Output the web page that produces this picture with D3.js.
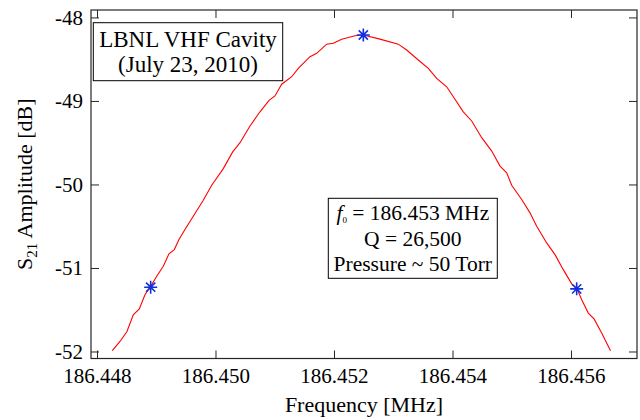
<!DOCTYPE html>
<html>
<head>
<meta charset="utf-8">
<script src="https://cdn.jsdelivr.net/npm/d3@7"></script>
<style>
  html, body { margin: 0; padding: 0; background: #fff; }
  svg text { font-family: "Liberation Serif", "DejaVu Serif", serif; fill: #000; }
</style>
</head>
<body>
<svg id="chart" width="640" height="420"></svg>
<script>
// ---- data ----
const freq = [
  186.448258, 186.448388, 186.448506, 186.448613, 186.448714, 186.448810, 186.448906,
  186.449008, 186.449119, 186.449215, 186.449305, 186.449384, 186.449485, 186.449625,
  186.449794, 186.449936, 186.450132, 186.450290, 186.450414, 186.450582, 186.450751,
  186.450908, 186.451004, 186.451117, 186.451286, 186.451398, 186.451595, 186.451708,
  186.451877, 186.451988, 186.452130, 186.452354, 186.452495, 186.452776, 186.453085,
  186.453227, 186.453423, 186.453592, 186.453733, 186.453902, 186.454042, 186.454182,
  186.454324, 186.454493, 186.454662, 186.454802, 186.454915, 186.454999, 186.455168,
  186.455308, 186.455421, 186.455590, 186.455730, 186.455870, 186.456012, 186.456096,
  186.456181, 186.456292, 186.456389, 186.456518, 186.456667
];
const amplitude = [
  -51.99, -51.88, -51.76, -51.56, -51.49, -51.32, -51.22,
  -51.10, -50.98, -50.83, -50.78, -50.66, -50.54, -50.38,
  -50.19, -50.01, -49.81, -49.61, -49.50, -49.30, -49.13,
  -48.99, -48.94, -48.80, -48.71, -48.61, -48.47, -48.43,
  -48.32, -48.31, -48.26, -48.22, -48.21, -48.26, -48.32,
  -48.39, -48.51, -48.61, -48.73, -48.83, -48.98, -49.13,
  -49.24, -49.44, -49.60, -49.78, -49.86, -50.01, -50.18,
  -50.34, -50.50, -50.70, -50.84, -51.02, -51.19, -51.24,
  -51.38, -51.54, -51.61, -51.78, -51.99
];
const markerFreq = [186.448906, 186.452495, 186.456096];
const markerAmp  = [-51.23, -48.21, -51.25];

const xTicks = [186.448, 186.450, 186.452, 186.454, 186.456];
const yTicks = [-52, -51, -50, -49, -48];
const xTickLabels = ["186.448", "186.450", "186.452", "186.454", "186.456"];
const yTickLabels = ["-52", "-51", "-50", "-49", "-48"];

const titleLines = ["LBNL VHF Cavity", "(July 23, 2010)"];
const infoLines = ["= 186.453 MHz", "Q = 26,500", "Pressure ~ 50 Torr"];

// ---- layout ----
const svg = d3.select("#chart");
const L = 91, R = 637, T = 10, B = 358.5;
const x = d3.scaleLinear().domain([186.447899, 186.457114]).range([L, R]);
const y = d3.scaleLinear().domain([-52.084, -47.911]).range([B, T]);
const axisColor = "#262626";
const tickLen = 8;

// axes (ticks inward, box)
const gx = svg.append("g").attr("transform", `translate(0,${B})`)
  .call(d3.axisBottom(x).tickValues(xTicks).tickSizeInner(-tickLen).tickSizeOuter(0)
    .tickPadding(10).tickFormat((d, i) => xTickLabels[i]));
const gxTop = svg.append("g").attr("transform", `translate(0,${T})`)
  .call(d3.axisTop(x).tickValues(xTicks).tickSizeInner(-tickLen).tickSizeOuter(0).tickFormat(""));
const gy = svg.append("g").attr("transform", `translate(${L},0)`)
  .call(d3.axisLeft(y).tickValues(yTicks).tickSizeInner(-tickLen).tickSizeOuter(0)
    .tickPadding(8).tickFormat((d, i) => yTickLabels[i]));
const gyR = svg.append("g").attr("transform", `translate(${R},0)`)
  .call(d3.axisRight(y).tickValues(yTicks).tickSizeInner(-tickLen).tickSizeOuter(0).tickFormat(""));

[gx, gxTop, gy, gyR].forEach(g => {
  g.select(".domain").remove();
  g.selectAll(".tick line").attr("stroke", axisColor).attr("stroke-width", 1);
  g.selectAll(".tick text").attr("font-size", 21).attr("font-family", "Liberation Serif").attr("fill", "#000");
});

svg.append("rect").attr("x", L).attr("y", T).attr("width", R - L).attr("height", B - T)
  .attr("fill", "none").attr("stroke", axisColor).attr("stroke-width", 1.2);

// curve
const line = d3.line().x((d, i) => x(freq[i])).y((d, i) => y(amplitude[i]));
svg.append("path").datum(freq).attr("d", line)
  .attr("fill", "none").attr("stroke", "#ff0000").attr("stroke-width", 1.1);

// asterisk markers
const s = 6.5, s2 = 4.6;
const star = `M${-s},0H${s}M0,${-s}V${s}M${-s2},${-s2}L${s2},${s2}M${-s2},${s2}L${s2},${-s2}`;
svg.append("g").selectAll("path").data(markerFreq).join("path")
  .attr("transform", (d, i) => `translate(${x(d)},${y(markerAmp[i])})`)
  .attr("d", star).attr("fill", "none").attr("stroke", "#1030e0").attr("stroke-width", 1.6);

// axis titles
svg.append("text").attr("x", (L + R) / 2).attr("y", 412).attr("text-anchor", "middle")
  .attr("font-size", 22).text("Frequency [MHz]");
const yt = svg.append("text").attr("transform", `translate(32,${(T + B) / 2}) rotate(-90)`)
  .attr("text-anchor", "middle").attr("font-size", 22);
yt.append("tspan").text("S");
yt.append("tspan").attr("font-size", 15).attr("dy", 5).text("21");
yt.append("tspan").attr("dy", -5).text(" Amplitude [dB]");

// title box
svg.append("rect").attr("x", 93.3).attr("y", 22.7).attr("width", 189.4).attr("height", 58)
  .attr("fill", "#fff").attr("stroke", "#000").attr("stroke-width", 1);
svg.append("g").selectAll("text").data(titleLines).join("text")
  .attr("x", 188).attr("y", (d, i) => 47 + i * 25).attr("text-anchor", "middle")
  .attr("font-size", 23).text(d => d);

// info box
svg.append("rect").attr("x", 328.3).attr("y", 198.3).attr("width", 169).attr("height", 80)
  .attr("fill", "#fff").attr("stroke", "#000").attr("stroke-width", 1);
const info = svg.append("g");
const t0 = info.append("text").attr("x", 412.8).attr("y", 219.5).attr("text-anchor", "middle").attr("font-size", 21.5);
t0.append("tspan").attr("font-style", "italic").text("f");
t0.append("tspan").attr("font-size", 9).attr("dy", 3).text("0");
t0.append("tspan").attr("dy", -3).text(" " + infoLines[0]);
info.append("text").attr("x", 412.8).attr("y", 245.5).attr("text-anchor", "middle").attr("font-size", 21.5).text(infoLines[1]);
info.append("text").attr("x", 412.8).attr("y", 271).attr("text-anchor", "middle").attr("font-size", 21.5).text(infoLines[2]);
</script>
</body>
</html>
